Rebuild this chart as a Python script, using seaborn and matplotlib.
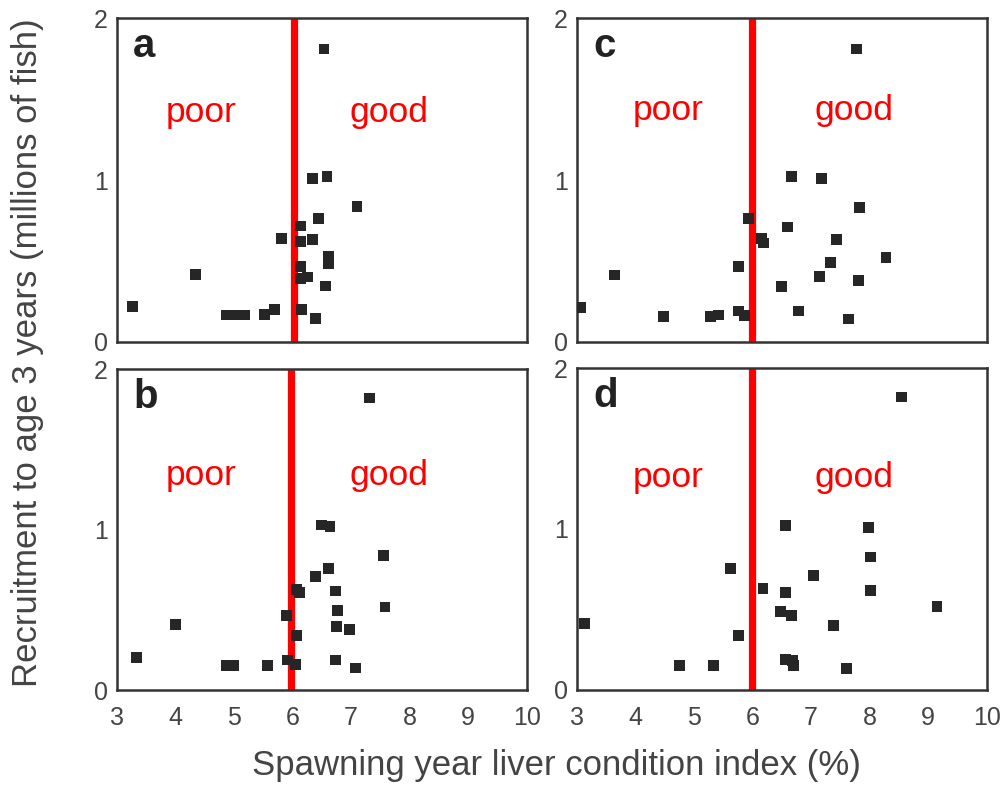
import matplotlib
matplotlib.use("Agg")
import matplotlib.pyplot as plt
import seaborn as sns
import pandas as pd

# Data
a_x = [6.54, 6.34, 6.59, 7.10, 6.44, 6.14, 5.81, 6.14, 6.34, 6.61, 6.61, 6.14,
       4.34, 6.14, 6.26, 6.57, 3.27, 6.15, 6.40, 4.88, 5.05, 5.19, 5.52, 5.69]
a_y = [1.81, 1.01, 1.02, 0.835, 0.763, 0.715, 0.64, 0.62, 0.63, 0.526, 0.485, 0.464,
       0.416, 0.39, 0.40, 0.344, 0.216, 0.20, 0.144, 0.165, 0.165, 0.165, 0.17, 0.20]

b_x = [7.31, 6.50, 6.64, 7.55, 6.61, 6.40, 6.07, 6.12, 6.74, 7.58, 6.77, 5.90,
       4.00, 6.75, 6.97, 6.07, 3.34, 6.74, 7.07, 4.88, 4.99, 5.57, 5.92, 6.05]
b_y = [1.82, 1.03, 1.02, 0.84, 0.76, 0.71, 0.63, 0.61, 0.62, 0.52, 0.50, 0.465,
       0.41, 0.40, 0.38, 0.34, 0.207, 0.19, 0.14, 0.155, 0.155, 0.155, 0.19, 0.16]

c_x = [7.78, 6.67, 7.18, 7.83, 5.93, 6.60, 6.16, 6.19, 7.44, 7.33, 8.28, 5.76,
       3.65, 7.14, 7.81, 6.49, 3.07, 6.78, 7.64, 4.48, 5.28, 5.42, 5.76, 5.86]
c_y = [1.81, 1.02, 1.01, 0.83, 0.76, 0.71, 0.64, 0.61, 0.63, 0.49, 0.52, 0.465,
       0.413, 0.405, 0.38, 0.34, 0.213, 0.19, 0.14, 0.157, 0.157, 0.165, 0.19, 0.16]

d_x = [8.55, 6.57, 7.98, 8.01, 5.63, 7.04, 6.18, 6.57, 8.01, 9.15, 6.48, 6.67,
       3.13, 7.38, 5.76, 4.75, 5.33, 6.56, 6.69, 6.70, 7.60]
d_y = [1.82, 1.02, 1.01, 0.825, 0.756, 0.71, 0.63, 0.605, 0.615, 0.52, 0.487, 0.46,
       0.41, 0.40, 0.336, 0.15, 0.15, 0.19, 0.18, 0.15, 0.13]

thresholds = {"a": 6.03, "b": 5.97, "c": 6.0, "d": 6.0}
label_y = {"a": 1.36, "b": 1.28, "c": 1.37, "d": 1.26}
label_x = {"a": (4.45, 7.64), "b": (4.45, 7.64), "c": (4.56, 7.74), "d": (4.56, 7.74)}

x_ticks = [3, 4, 5, 6, 7, 8, 9, 10]
y_ticks = [0, 1, 2]

sns.set_theme(style="white")
plt.rcParams['font.family'] = ['Liberation Sans', 'DejaVu Sans']

fig = plt.figure(figsize=(10.07, 7.85), dpi=100)

# axes rectangles in figure fractions
boxes = {
    "a": [0.1159, 0.5647, 0.4072, 0.412],
    "b": [0.1159, 0.1204, 0.4072, 0.4093],
    "c": [0.5727, 0.5647, 0.4072, 0.412],
    "d": [0.5727, 0.1213, 0.4072, 0.4098],
}
panels = {"a": (a_x, a_y), "b": (b_x, b_y), "c": (c_x, c_y), "d": (d_x, d_y)}

for key, (xs, ys) in panels.items():
    ax = fig.add_axes(boxes[key])
    df = pd.DataFrame({"liver": xs, "recruit": ys})
    ax.axvline(thresholds[key], color="#ff0000", lw=5.2, zorder=1)
    sns.scatterplot(data=df, x="liver", y="recruit", ax=ax, marker="s",
                    s=60, color="#262626", edgecolor="none", zorder=3)
    ax.set_xlim(3, 10)
    ax.set_ylim(0, 2)
    ax.set_xticks(x_ticks)
    ax.set_yticks(y_ticks)
    ax.set_xlabel("")
    ax.set_ylabel("")
    ax.tick_params(direction="inout", length=7, width=1.6, color="#333333",
                   labelsize=18, labelcolor="#444444", pad=3)
    ax.tick_params(axis="x", pad=8)
    if key in ("a", "c"):
        ax.set_xticklabels([])
    for sp in ax.spines.values():
        sp.set_color("#333333")
        sp.set_linewidth(1.8)
    px, gx = label_x[key]
    ax.text(px, label_y[key], "poor", color="#ff0000", fontsize=25.5,
            ha="center", va="baseline")
    ax.text(gx, label_y[key], "good", color="#ff0000", fontsize=25.5,
            ha="center", va="baseline")
    ax.text(0.04, 0.88, key, transform=ax.transAxes, fontsize=29,
            fontweight="bold", color="#222222", ha="left", va="baseline")

fig.text(0.027, 0.551, "Recruitment to age 3 years (millions of fish)",
         rotation=90, ha="center", va="center", fontsize=25, color="#444444")
fig.text(0.553, 0.013, "Spawning year liver condition index (%)",
         ha="center", va="baseline", fontsize=25, color="#444444")

fig.savefig("out.png", dpi=100)
